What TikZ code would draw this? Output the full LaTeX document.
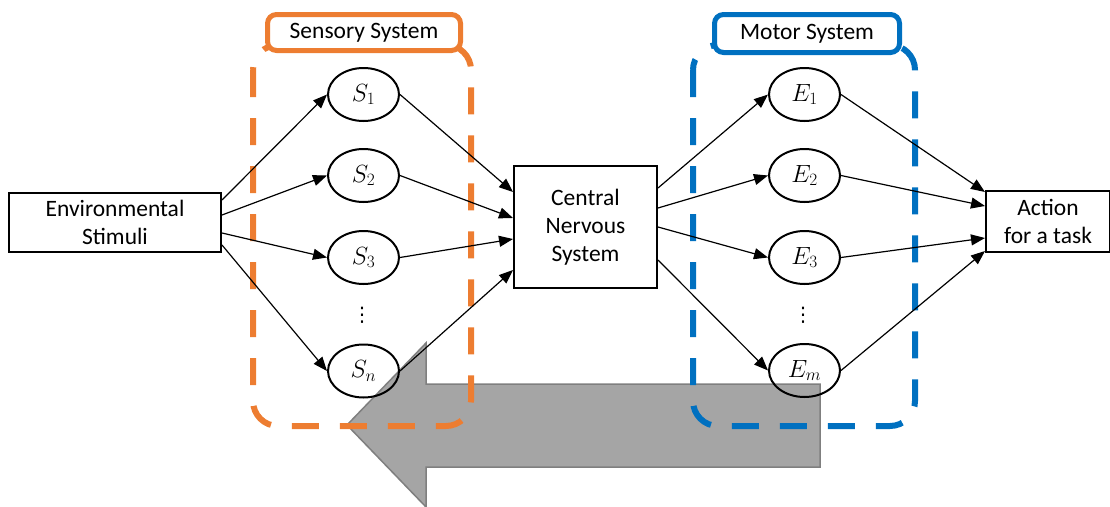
\documentclass[tikz,border=0pt]{standalone}
\usepackage{fontspec}
\setmainfont{Carlito}
\newfontfamily\dejavu{DejaVu Sans}
\usetikzlibrary{arrows.meta,shapes.geometric}
\definecolor{orng}{HTML}{ED7D31}
\definecolor{blu}{HTML}{0070C0}
\definecolor{arrgray}{HTML}{A5A5A5}
\definecolor{arredge}{HTML}{7F7F7F}
\begin{document}
\begin{tikzpicture}[x=1pt,y=-1pt,
  txt/.style={font=\fontsize{23.5}{28}\selectfont, align=center},
  box/.style={draw, line width=2pt, fill=white, inner sep=0pt, txt},
  oval/.style={draw, ellipse, line width=2pt, minimum width=71pt, minimum height=53pt, inner sep=0pt, font=\fontsize{25}{28}\selectfont},
  conn/.style={line width=1.2pt, -{Triangle[length=14pt,width=11pt]}},
  lbl/.style={draw, line width=5pt, rounded corners=9pt, fill=white, inner sep=0pt, txt},
  group/.style={line width=6pt, dash pattern=on 27pt off 21pt, rounded corners=25pt},
  dotsnode/.style={font=\dejavu\fontsize{20}{24}\selectfont, inner sep=0pt}
]
\useasboundingbox (0,0) rectangle (1110,506);
% big grey feedback arrow (drawn first, behind everything)
\filldraw[fill=arrgray, draw=arredge, line width=1.5pt]
  (347,425) -- (426,343) -- (426,384) -- (820,384) -- (820,467) -- (426,467) -- (426,507) -- cycle;
% group frames
\draw[group, orng] (253,45) rectangle (471,426);
\draw[group, blu] (693,45) rectangle (915,426);
\node[lbl, draw=orng, minimum width=193pt, minimum height=36pt] (sens) at (364,32.5) {Sensory System};
\node[lbl, draw=blu, minimum width=185pt, minimum height=38pt] (mot) at (807,33.5) {Motor System};
% boxes
\node[box, minimum width=212pt, minimum height=59pt] (env) at (115,222.5) {Environmental\\Stimuli};
\node[box, minimum width=143pt, minimum height=122pt] (cns) at (585.5,227) {Central\\Nervous\\System};
\node[box, minimum width=124pt, minimum height=61pt] (act) at (1048,221.5) {Action\\for a task};
% sensors
\node[oval] (s1) at (363.5,94.5) {$S_1$};
\node[oval] (s2) at (363.5,175.5) {$S_2$};
\node[oval] (s3) at (363.5,257.5) {$S_3$};
\node[dotsnode] (sd) at (362,315) {⋮};
\node[oval] (sn) at (363.5,371) {$S_n$};
% effectors
\node[oval] (e1) at (804.5,94.5) {$E_1$};
\node[oval] (e2) at (804.5,175.5) {$E_2$};
\node[oval] (e3) at (804.5,257.5) {$E_3$};
\node[dotsnode] (ed) at (803,315) {⋮};
\node[oval] (em) at (804.5,370.5) {$E_m$};
% connectors env -> S
\draw[conn] ([yshift=22.5pt]env.east) -- (s1.west);
\draw[conn] ([yshift=7.5pt]env.east) -- (s2.west);
\draw[conn] ([yshift=-10.5pt]env.east) -- (s3.west);
\draw[conn] ([yshift=-22.5pt]env.east) -- (sn.west);
% S -> CNS
\draw[conn] (s1.east) -- ([yshift=35pt]cns.west);
\draw[conn] (s2.east) -- ([yshift=9pt]cns.west);
\draw[conn] (s3.east) -- ([yshift=-12pt]cns.west);
\draw[conn] (sn.east) -- ([yshift=-43pt]cns.west);
% CNS -> E
\draw[conn] ([yshift=39pt]cns.east) -- (e1.west);
\draw[conn] ([yshift=19pt]cns.east) -- (e2.west);
\draw[conn] ([yshift=0pt]cns.east) -- (e3.west);
\draw[conn] ([yshift=-33pt]cns.east) -- (em.west);
% E -> action
\draw[conn] (e1.east) -- ([yshift=29.5pt]act.west);
\draw[conn] (e2.east) -- ([yshift=15.5pt]act.west);
\draw[conn] (e3.east) -- ([yshift=-16.5pt]act.west);
\draw[conn] (em.east) -- ([yshift=-29.5pt]act.west);
\end{tikzpicture}
\end{document}
